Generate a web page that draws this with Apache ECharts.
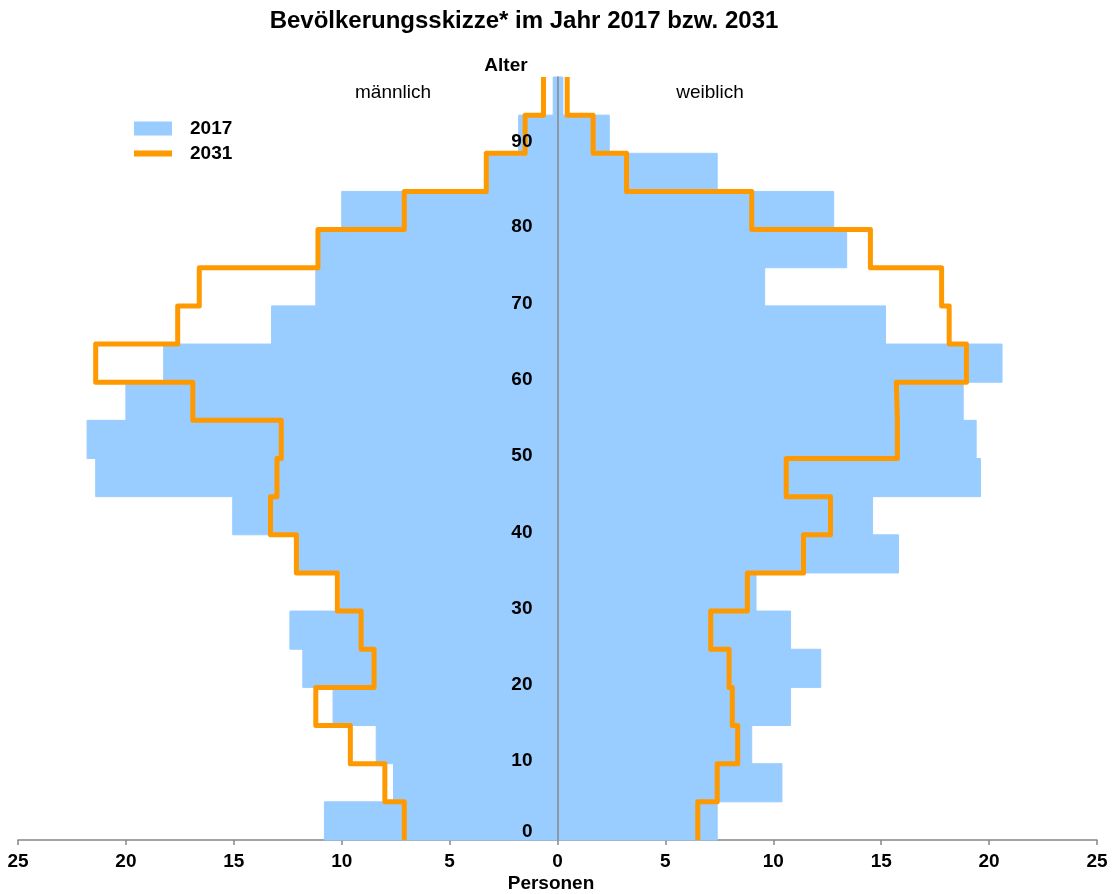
<!DOCTYPE html>
<html>
<head>
<meta charset="utf-8">
<script src="https://cdn.jsdelivr.net/npm/echarts@6/dist/echarts.min.js"></script>
<style>
html,body{margin:0;padding:0;background:#ffffff;}
#chart{width:1115px;height:894px;}
</style>
</head>
<body>
<div id="chart"></div>
<script>
// Age groups (lower bound of each 5-year group)
const ageGroupStart = [0,5,10,15,20,25,30,35,40,45,50,55,60,65,70,75,80,85,90,95];
const groupWidth = 5;

// Persons per age group
const male2017   = [10.8, 7.6, 8.4, 10.4, 11.8, 12.4, 10.05, 12.0, 15.05, 21.4, 21.8, 20.0, 18.25, 13.25, 11.2, 11.0, 10.0, 3.2, 1.8, 0.2];
const female2017 = [7.4, 10.4, 9.0, 10.8, 12.2, 10.8, 9.2, 15.8, 14.6, 19.6, 19.4, 18.8, 20.6, 15.2, 9.6, 13.4, 12.8, 7.4, 2.4, 0.25];
const male2031   = [7.1, 8.0, 9.6, 11.2, 8.5, 9.1, 10.2, 12.1, 13.3, 13.0, 12.8, 16.9, 21.4, 17.6, 16.6, 11.1, 7.1, 3.3, 1.5, 0.65];
const female2031 = [6.5, 7.4, 8.35, 8.1, 7.95, 7.1, 8.8, 11.4, 12.65, 10.6, 15.75, 15.7, 18.95, 18.15, 17.8, 14.5, 9.0, 3.2, 1.65, 0.45];

const yTickLabels = ['0','10','20','30','40','50','60','70','80','90'];

const FONT = "'Liberation Sans', Arial, Helvetica, sans-serif";
const BLUE = '#99CCFF';
const ORANGE = '#FF9900';
const GRAY = '#878787';

const GRID_LEFT = 18, GRID_RIGHT = 18, CHART_W = 1115;
const X_MIN = -25, X_MAX = 25;
// distance from grid left edge to the x = 0 position (moves the age axis to the centre)
const zeroOffset = (CHART_W - GRID_LEFT - GRID_RIGHT) * (0 - X_MIN) / (X_MAX - X_MIN);

// bars for 2017: [signed value, age start]
const bars2017 = [];
male2017.forEach((v, i) => bars2017.push([-v, ageGroupStart[i]]));
female2017.forEach((v, i) => bars2017.push([v, ageGroupStart[i]]));

function stepPoints(vals, sign) {
  const pts = [];
  vals.forEach((v, i) => {
    pts.push([sign * v, ageGroupStart[i]]);
    pts.push([sign * v, ageGroupStart[i] + groupWidth]);
  });
  return pts;
}

const chart = echarts.init(document.getElementById('chart'), null, {renderer: 'canvas'});

const option = {
  animation: false,
  backgroundColor: '#ffffff',
  textStyle: {fontFamily: FONT},
  title: {
    text: 'Bevölkerungsskizze* im Jahr 2017 bzw. 2031',
    left: 524,
    textAlign: 'center',
    top: 9,
    padding: 0,
    textStyle: {fontFamily: FONT, fontSize: 24, fontWeight: 'bold', color: '#000'}
  },
  legend: {
    orient: 'vertical',
    left: 134,
    top: 119,
    padding: 0,
    itemWidth: 38,
    itemHeight: 14,
    itemGap: 6,
    selectedMode: false,
    data: [
      {name: '2017', icon: 'rect'},
      {name: '2031', icon: 'path://M0,0H38V6H0Z'}
    ],
    textStyle: {fontFamily: FONT, fontSize: 19, fontWeight: 'bold', color: '#000', padding: [0, 0, 0, 13]}
  },
  grid: {left: GRID_LEFT, right: GRID_RIGHT, top: 77, bottom: 54, containLabel: false, outerBoundsMode: 'none'},
  xAxis: {
    type: 'value',
    min: X_MIN,
    max: X_MAX,
    interval: 5,
    splitLine: {show: false},
    axisLine: {onZero: false, lineStyle: {color: GRAY, width: 1.5}},
    axisTick: {show: true, inside: false, length: 5, lineStyle: {color: GRAY, width: 1.5}},
    axisLabel: {
      margin: 12,
      fontFamily: FONT, fontSize: 19, fontWeight: 'bold', color: '#000',
      formatter: v => String(Math.abs(v))
    }
  },
  yAxis: {
    type: 'value',
    position: 'left',
    offset: -zeroOffset,
    min: 0,
    max: 100,
    interval: 10,
    z: 10,
    splitLine: {show: false},
    axisLine: {show: true, onZero: false, lineStyle: {color: GRAY, width: 1.5}},
    axisTick: {show: false},
    axisLabel: {
      margin: 25,
      formatter: v => {
        const s = String(v);
        if (yTickLabels.indexOf(s) < 0) return '';
        if (v === 0) return '{a|' + s + '}';
        if (v === 90) return '{b|' + s + '}';
        return '{n|' + s + '}';
      },
      rich: {
        n: {fontFamily: FONT, fontSize: 19, fontWeight: 'bold', color: '#000', padding: [0, 0, 5, 0]},
        a: {fontFamily: FONT, fontSize: 19, fontWeight: 'bold', color: '#000', padding: [0, 0, 17, 0]},
        b: {fontFamily: FONT, fontSize: 19, fontWeight: 'bold', color: '#000', padding: [0, 0, 23, 0]}
      }
    }
  },
  graphic: [
    {type: 'text', x: 506, y: 66, z: 100,
     style: {text: 'Alter', font: 'bold 19px ' + FONT, fill: '#000', textAlign: 'center', align: 'center', textVerticalAlign: 'middle', verticalAlign: 'middle'}},
    {type: 'text', x: 393, y: 93, z: 100,
     style: {text: 'männlich', font: '19px ' + FONT, fill: '#000', textAlign: 'center', align: 'center', textVerticalAlign: 'middle', verticalAlign: 'middle'}},
    {type: 'text', x: 710, y: 93, z: 100,
     style: {text: 'weiblich', font: '19px ' + FONT, fill: '#000', textAlign: 'center', align: 'center', textVerticalAlign: 'middle', verticalAlign: 'middle'}},
    {type: 'text', x: 551, y: 884, z: 100,
     style: {text: 'Personen', font: 'bold 19px ' + FONT, fill: '#000', textAlign: 'center', align: 'center', textVerticalAlign: 'middle', verticalAlign: 'middle'}}
  ],
  series: [
    {
      name: '2017',
      type: 'custom',
      z: 2,
      itemStyle: {color: BLUE},
      encode: {x: 0, y: 1},
      data: bars2017,
      renderItem: function (params, api) {
        const v = api.value(0);
        const a = api.value(1);
        const p0 = api.coord([0, a]);
        const p1 = api.coord([v, a + groupWidth]);
        return {
          type: 'rect',
          shape: {
            x: Math.min(p0[0], p1[0]),
            y: p1[1],
            width: Math.abs(p1[0] - p0[0]),
            height: p0[1] - p1[1]
          },
          style: {fill: BLUE, stroke: BLUE, lineWidth: 1}
        };
      }
    },
    {
      name: '2031',
      type: 'line',
      z: 3,
      symbol: 'none',
      showSymbol: false,
      color: ORANGE,
      lineStyle: {color: ORANGE, width: 5, join: 'round'},
      data: stepPoints(male2031, -1)
    },
    {
      name: '2031',
      type: 'line',
      z: 3,
      symbol: 'none',
      showSymbol: false,
      color: ORANGE,
      lineStyle: {color: ORANGE, width: 5, join: 'round'},
      data: stepPoints(female2031, 1)
    }
  ]
};

chart.setOption(option);
</script>
</body>
</html>
